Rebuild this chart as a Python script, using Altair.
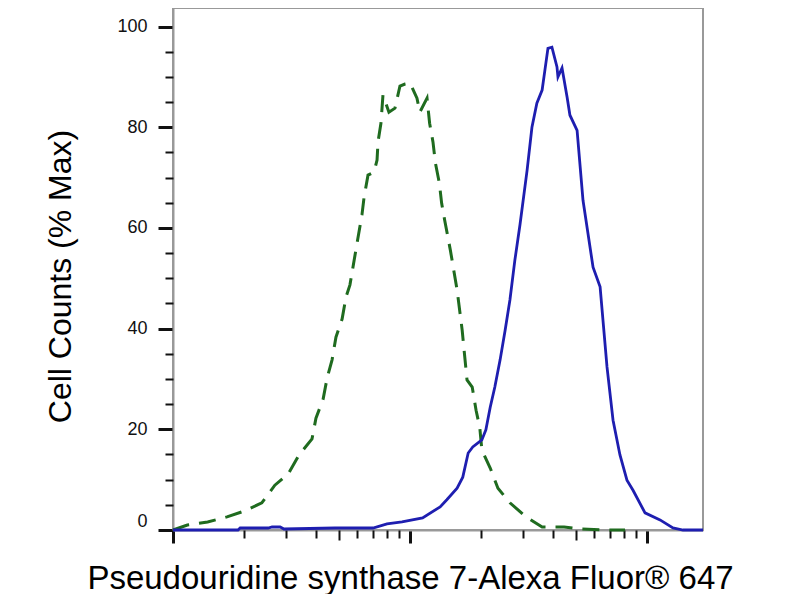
import altair as alt
import pandas as pd

# Isotype control (green dashed) - intensity vs % max
iso_x = [10.0, 11.5, 14.0, 16.9, 20.1, 23.7, 26.9, 30.6, 34.0, 38.6, 40.1, 43.0, 44.7, 46.9,
         48.7, 51.7, 53.7, 55.8, 58.6, 62.7, 64.0, 66.5, 70.5, 72.6, 73.3, 75.4, 76.9, 81.5,
         86.4, 90.7, 95.3, 100, 107, 110, 118, 121, 125, 128, 133, 136, 140, 148, 158, 166,
         174, 183, 190, 197, 201, 218, 235, 264, 309, 361, 447, 522, 652, 808]
iso_y = [0, 1.0, 1.6, 2.6, 3.8, 5.4, 8.9, 11.1, 14.9, 18.1, 22.2, 26.0, 30.2, 33.8,
         38.3, 41.9, 46.3, 48.7, 54.6, 62.6, 66.1, 70.5, 71.1, 73.5, 77.1, 80.8, 86.4, 83.0,
         83.8, 88.2, 88.6, 88.8, 85.8, 83.0, 85.8, 80.8, 77.1, 72.9, 68.9, 64.9, 61.6, 55.6,
         47.7, 39.7, 29.8, 28.4, 23.8, 20.3, 15.9, 12.3, 8.3, 5.4, 2.6, 0.6, 0.6, 0.2, 0, 0]

# Stained sample (blue solid)
pos_x = [10, 18.8, 19.2, 25.2, 26.2, 28.3, 29.4, 48.3, 69.8, 80.0, 92.5, 113, 134, 143,
         158, 167, 176, 184, 201, 209, 218, 228, 240, 252, 264, 277, 291, 312, 327, 343,
         361, 371, 382, 397, 417, 421, 438, 460, 473, 507, 537, 592, 634, 678, 719, 769,
         823, 873, 981, 1135, 1287, 1419, 1723]
pos_y = [0, 0, 0.4, 0.4, 0.6, 0.6, 0.2, 0.4, 0.4, 1.2, 1.6, 2.4, 4.6, 6.0,
         8.3, 10.5, 15.3, 16.5, 17.9, 19.9, 24.4, 28.4, 33.8, 39.7, 45.7, 53.6, 60.6, 71.5,
         80.0, 84.8, 87.4, 91.4, 95.7, 95.9, 92.0, 90.0, 91.8, 86.0, 82.4, 79.4, 65.5, 52.2,
         48.3, 32.4, 21.8, 14.9, 9.9, 7.9, 3.4, 2.0, 0.4, 0, 0]

major_x = [10, 100, 1000]
mid_x = [50, 500]
minor_x = [20, 30, 40, 60, 70, 80, 90, 200, 300, 400, 600, 700, 800, 900]
major_y = [0, 20, 40, 60, 80, 100]
minor_y = [5, 10, 15, 25, 30, 35, 45, 50, 55, 65, 70, 75, 85, 90, 95]

x_title = "Pseudouridine synthase 7-Alexa Fluor® 647"
y_title = "Cell Counts (% Max)"

iso = pd.DataFrame({"x": iso_x, "y": iso_y})
pos = pd.DataFrame({"x": pos_x, "y": pos_y})

xscale = alt.Scale(type="log", domain=[10, 1723], nice=False)
yscale = alt.Scale(domain=[0, 103.7], nice=False, zero=False)

green = alt.Chart(iso).mark_line(color="#1f6b1f", strokeWidth=3, strokeDash=[17, 10]).encode(
    x=alt.X("x:Q", scale=xscale, axis=alt.Axis(
        values=major_x, orient="bottom", labels=False, grid=False,
        tickSize=13, tickWidth=3, tickColor="#111111",
        domainColor="#999999", domainWidth=2,
        title=x_title, titleFont="Liberation Sans", titleFontSize=33,
        titleFontWeight="normal", titleColor="#000000",
        titleX=237, titleY=58, titleAlign="center", titleBaseline="alphabetic")),
    y=alt.Y("y:Q", scale=yscale, axis=alt.Axis(
        values=major_y, orient="left", grid=False, format="d",
        tickSize=15, tickWidth=3, tickColor="#111111",
        domainColor="#999999", domainWidth=2,
        labelFont="Liberation Sans", labelFontSize=18, labelColor="#111111",
        labelPadding=11, labelFlush=True,
        title=y_title, titleFont="Liberation Sans", titleFontSize=32,
        titleFontWeight="normal", titleColor="#000000",
        titleX=-103, titleY=268, titleAngle=-90, titleAlign="center",
        titleBaseline="alphabetic")),
    order=alt.Order("x:Q"),
)

blue = alt.Chart(pos).mark_line(color="#1e1eb0", strokeWidth=2.8).encode(
    x=alt.X("x:Q", scale=xscale, axis=alt.Axis(
        values=minor_x, orient="bottom", labels=False, grid=False, domain=False,
        tickSize=8, tickWidth=2, tickColor="#111111", title=None)),
    y=alt.Y("y:Q", scale=yscale, axis=alt.Axis(
        values=minor_y, orient="left", labels=False, grid=False, domain=False,
        tickSize=8, tickWidth=2, tickColor="#111111", title=None)),
    order=alt.Order("x:Q"),
)

# invisible carrier layer for the mid-decade (5x) ticks
mid = alt.Chart(pos).mark_line(opacity=0).encode(
    x=alt.X("x:Q", scale=xscale, axis=alt.Axis(
        values=mid_x, orient="bottom", labels=False, grid=False, domain=False,
        tickSize=10, tickWidth=2, tickColor="#111111", title=None)),
    y=alt.Y("y:Q", scale=yscale, axis=None),
)

chart = alt.layer(green, blue, mid).resolve_axis(x="independent", y="independent").properties(
    width=530, height=522,
    autosize=alt.AutoSizeParams(type="none"),
    padding={"left": 165, "top": 0, "right": 40, "bottom": 64},
).configure_view(stroke="#999999", strokeWidth=2)

chart.save("out.html", embed_options={"renderer": "svg", "actions": False})
